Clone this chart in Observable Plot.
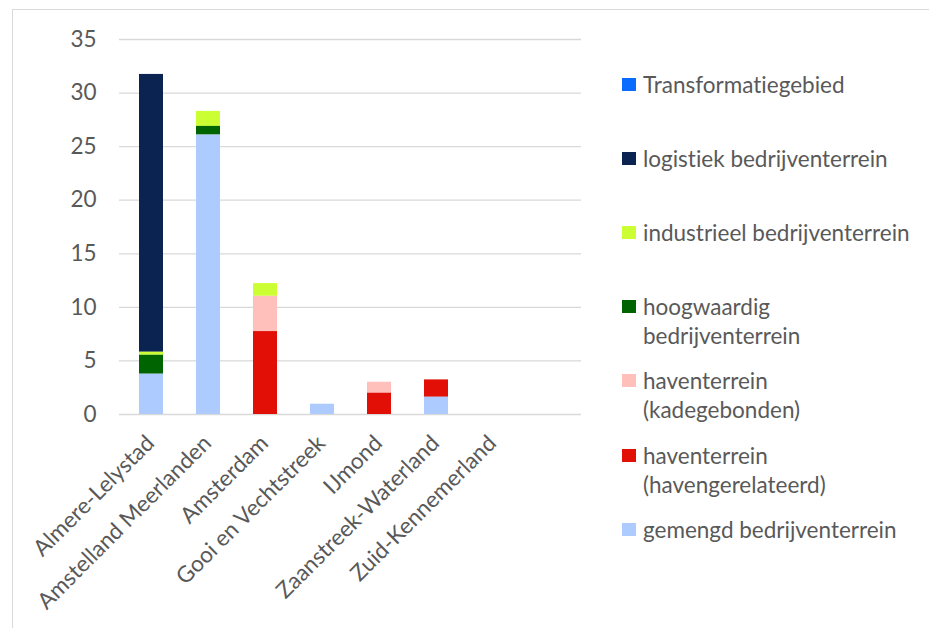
<!DOCTYPE html>
<html>
<head>
<meta charset="utf-8">
<script src="https://cdn.jsdelivr.net/npm/d3@7"></script>
<script src="https://cdn.jsdelivr.net/npm/@observablehq/plot@0.6"></script>
<style>
  html, body { margin: 0; padding: 0; background: #fff; }
  #wrap { position: relative; width: 929px; height: 628px; overflow: hidden; font-family: Lato, sans-serif; color: #595959; font-variant-ligatures: none; font-feature-settings: "liga" 0, "clig" 0; }
  #wrap svg, #wrap svg text { font-variant-ligatures: none; font-feature-settings: "liga" 0, "clig" 0; }
  #border { position: absolute; left: 12px; top: 9px; width: 1000px; height: 1000px; border: 1.3px solid #d9d9d9; box-sizing: border-box; }
  #chart { position: absolute; left: 0; top: 0; }
  #legend { position: absolute; left: 0; top: 0; }
  .item { position: absolute; left: 622px; font-size: 22.5px; line-height: 29px; white-space: nowrap; }
  .sw { position: absolute; left: 0; top: 8px; width: 14px; height: 13px; }
  .lbl { position: absolute; left: 21px; top: 0; }
</style>
</head>
<body>
<div id="wrap">
  <div id="border"></div>
  <div id="chart"></div>
  <div id="legend"></div>
</div>
<script>
// Categories (regions)
const regions = ["Almere-Lelystad", "Amstelland Meerlanden", "Amsterdam", "Gooi en Vechtstreek", "IJmond", "Zaanstreek-Waterland", "Zuid-Kennemerland"];

// Series values per region
const transformatiegebied = [0, 0, 0, 0, 0, 0, 0];
const logistiek = [25.93, 0, 0, 0, 0, 0, 0];
const industrieel = [0.28, 1.40, 1.19, 0, 0, 0, 0];
const hoogwaardig = [1.77, 0.81, 0, 0, 0, 0, 0];
const kadegebonden = [0, 0, 3.29, 0, 1.02, 0, 0];
const havengerelateerd = [0, 0, 7.74, 0, 1.99, 1.62, 0];
const gemengd = [3.76, 26.08, 0, 0.96, 0, 1.61, 0];

// Series names (legend order, top to bottom)
const seriesNames = ["Transformatiegebied", "logistiek bedrijventerrein", "industrieel bedrijventerrein", "hoogwaardig bedrijventerrein", "haventerrein (kadegebonden)", "haventerrein (havengerelateerd)", "gemengd bedrijventerrein"];
const seriesValues = [transformatiegebied, logistiek, industrieel, hoogwaardig, kadegebonden, havengerelateerd, gemengd];
const seriesColors = ["#0a6cff", "#0a2350", "#ccff33", "#006400", "#ffc0bb", "#e20f06", "#adcbff"];

// Y tick labels
const yTicks = [0, 5, 10, 15, 20, 25, 30, 35];

const data = [];
seriesNames.forEach((name, s) => {
  regions.forEach((r, i) => data.push({region: r, type: name, value: seriesValues[s][i]}));
});
const stackOrder = seriesNames.slice().reverse(); // bottom to top

const chart = Plot.plot({
  width: 600,
  height: 628,
  marginLeft: 119,
  marginRight: 19,
  marginTop: 39,
  marginBottom: 214,
  style: {fontFamily: "Lato, sans-serif", fontSize: "22.5px", color: "#595959", background: "transparent"},
  x: {domain: [...regions, ""], paddingInner: 0.585, paddingOuter: 0.2925, axis: null},
  y: {domain: [0, 35], axis: null},
  color: {domain: seriesNames, range: seriesColors},
  marks: [
    Plot.ruleY(yTicks, {stroke: "#d9d9d9", strokeWidth: 1.3}),
    Plot.barY(data, {x: "region", y: "value", fill: "type", order: stackOrder}),
    Plot.axisY({ticks: yTicks, tickSize: 0, tickPadding: 23, label: null, fill: "#595959"}),
    Plot.text(regions, {x: d => d, frameAnchor: "bottom", rotate: -45, textAnchor: "end", lineAnchor: "middle", dx: -1, dy: 25, fill: "#595959"})
  ]
});
document.getElementById("chart").appendChild(chart);

// Legend
const wrapAt = new Set(["hoogwaardig bedrijventerrein", "haventerrein (kadegebonden)", "haventerrein (havengerelateerd)"]);
const legend = document.getElementById("legend");
seriesNames.forEach((name, i) => {
  const center = 84 + i * 74.2;
  const item = document.createElement("div");
  item.className = "item";
  item.style.top = (center - 14.5) + "px";
  const sw = document.createElement("div");
  sw.className = "sw";
  sw.style.background = seriesColors[i];
  const lbl = document.createElement("div");
  lbl.className = "lbl";
  if (wrapAt.has(name)) {
    const k = name.indexOf(" ");
    lbl.appendChild(document.createTextNode(name.slice(0, k)));
    lbl.appendChild(document.createElement("br"));
    lbl.appendChild(document.createTextNode(name.slice(k + 1)));
  } else {
    lbl.textContent = name;
  }
  item.appendChild(sw);
  item.appendChild(lbl);
  legend.appendChild(item);
});
</script>
</body>
</html>
